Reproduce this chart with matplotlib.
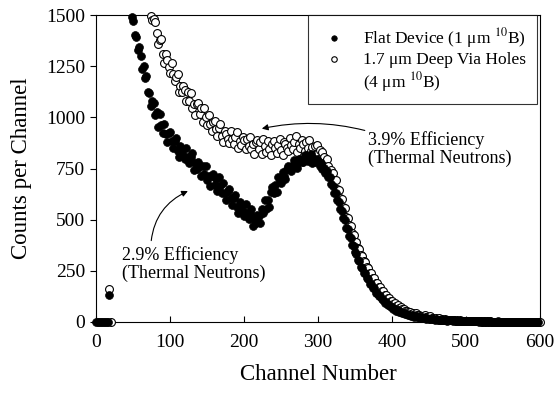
import numpy as np
import matplotlib
matplotlib.use("Agg")
import matplotlib.pyplot as plt
from matplotlib.lines import Line2D

# channel numbers (every 2nd channel)
channels = np.arange(0, 601, 2)

flat_counts = [
    0, 0, 0, 0, 0, 0, 0, 0, 0, 130,
    3000, 2850, 2700, 2550, 2400, 2280, 2160, 2050, 1950, 1860,
    1770, 1690, 1610, 1530, 1490, 1470, 1405, 1395, 1330, 1345,
    1300, 1236, 1250, 1194, 1200, 1122, 1119, 1058, 1079, 1069,
    1010, 1027, 955, 1015, 965, 925, 970, 920, 882, 925,
    928, 886, 850, 883, 899, 837, 806, 861, 842, 815,
    795, 851, 806, 779, 807, 827, 743, 776, 749, 782,
    762, 713, 761, 721, 760, 693, 714, 663, 715, 721,
    670, 701, 638, 707, 664, 630, 678, 631, 596, 642,
    648, 607, 572, 606, 623, 562, 531, 586, 567, 540,
    520, 576, 531, 504, 532, 552, 470, 505, 482, 523,
    517, 486, 553, 534, 596, 553, 595, 563, 634, 658,
    628, 670, 636, 708, 690, 680, 734, 712, 698, 749,
    762, 748, 738, 769, 790, 764, 754, 795, 792, 784,
    783, 815, 797, 788, 806, 819, 778, 796, 781, 797,
    788, 763, 777, 750, 753, 728, 738, 710, 708, 672,
    666, 632, 630, 595, 588, 550, 544, 508, 500, 461,
    453, 419, 410, 377, 372, 340, 334, 304, 299, 271,
    265, 241, 238, 214, 209, 184, 184, 165, 164, 144,
    142, 127, 126, 110, 109, 95, 96, 83, 83, 72,
    73, 63, 64, 56, 57, 47, 49, 43, 45, 38,
    39, 33, 36, 29, 32, 26, 28, 22, 25, 21,
    22, 18, 20, 15, 17, 14, 16, 13, 14, 11,
    13, 10, 12, 9, 11, 8, 10, 7, 9, 8,
    8, 6, 8, 6, 7, 5, 6, 5, 6, 4,
    5, 4, 5, 3, 4, 3, 5, 3, 3, 2,
    3, 2, 4, 2, 3, 2, 3, 1, 2, 2,
    2, 1, 3, 1, 2, 1, 2, 1, 1, 2,
    1, 1, 2, 0, 1, 1, 2, 0, 1, 1,
    1, 0, 1, 1, 0, 1, 0, 1, 0, 0,
    np.nan,
]

via_counts = [
    np.nan, np.nan, np.nan, np.nan, np.nan, np.nan, np.nan, np.nan, np.nan, 160,
    0, 4400, 4200, 4000, 3800, 3600, 3400, 3200, 3000, 2850,
    2700, 2550, 2400, 2280, 2160, 2050, 1950, 1860, 1780, 1710,
    1660, 1620, 1590, 1565, 1545, 1525, 1510, 1495, 1478, 1482,
    1468, 1411, 1360, 1378, 1385, 1312, 1268, 1310, 1280, 1244,
    1215, 1264, 1212, 1178, 1199, 1212, 1125, 1155, 1125, 1155,
    1132, 1080, 1125, 1082, 1118, 1048, 1067, 1014, 1064, 1068,
    1015, 1044, 979, 1046, 1001, 965, 1013, 966, 931, 977,
    983, 944, 911, 947, 966, 907, 878, 935, 918, 893,
    875, 935, 894, 871, 903, 927, 848, 886, 864, 902,
    887, 843, 896, 861, 905, 843, 869, 822, 879, 889,
    843, 879, 822, 896, 859, 830, 885, 845, 817, 870,
    883, 851, 824, 867, 892, 840, 817, 880, 868, 849,
    837, 901, 863, 844, 879, 907, 830, 869, 848, 888,
    872, 837, 880, 852, 887, 837, 856, 816, 858, 864,
    827, 839, 802, 832, 806, 783, 797, 763, 733, 744,
    730, 692, 692, 652, 646, 605, 600, 563, 556, 515,
    508, 473, 469, 434, 427, 392, 389, 361, 357, 326,
    321, 296, 294, 269, 265, 240, 238, 217, 215, 192,
    190, 171, 170, 152, 149, 131, 133, 117, 117, 102,
    102, 90, 91, 79, 81, 70, 71, 61, 63, 54,
    55, 47, 50, 41, 44, 36, 42, 32, 35, 28,
    31, 24, 33, 22, 24, 18, 28, 17, 19, 15,
    17, 13, 19, 12, 13, 11, 15, 10, 11, 10,
    10, 8, 9, 7, 9, 6, 8, 6, 7, 5,
    6, 4, 6, 4, 5, 3, 5, 3, 4, 3,
    3, 2, 4, 2, 3, 2, 3, 2, 2, 1,
    2, 1, 2, 1, 2, 1, 1, 2, 1, 1,
    1, 1, 2, 0, 1, 1, 1, 0, 1, 1,
    1, 0, 1, 0, 0, 1, 0, 1, 0, 0,
    0,
]

x_ticks = [0, 100, 200, 300, 400, 500, 600]
y_ticks = [0, 250, 500, 750, 1000, 1250, 1500]
y_max = 1500

plt.rcParams['font.family'] = ['Liberation Serif', 'DejaVu Serif']
plt.rcParams['mathtext.fontset'] = 'stix'

fig = plt.figure(figsize=(5.56, 3.97), dpi=100)
ax = fig.add_axes([0.173, 0.189, 0.798, 0.773])

# points above the top of the axis are left out, the rest may overhang the frame
flat_shown = np.ma.masked_greater(np.array(flat_counts, dtype=float), y_max)
via_shown = np.ma.masked_greater(np.array(via_counts, dtype=float), y_max)

via_pts = ax.scatter(channels, via_shown, s=32, facecolors='white', edgecolors='black',
                     linewidths=0.8, zorder=3, clip_on=False)
flat_pts = ax.scatter(channels, flat_shown, s=32, color='black', edgecolors='black',
                      linewidths=0.5, zorder=4, clip_on=False)

ax.set_xlim(0, 600)
ax.set_ylim(0, y_max)
ax.set_xticks(x_ticks)
ax.set_yticks(y_ticks)
ax.tick_params(axis='x', direction='in', labelsize=14, pad=9, length=4)
ax.tick_params(axis='y', direction='out', labelsize=14, pad=4, length=4)
ax.set_xlabel("Channel Number", fontsize=16.5, labelpad=9)
ax.set_ylabel("Counts per Channel", fontsize=16.5, labelpad=10)

# the second label wraps onto a third row with no marker of its own
blank = Line2D([], [], linestyle='none')
leg = ax.legend([flat_pts, via_pts, blank],
                ['Flat Device (1 μm $^{10}$B)', '1.7 μm Deep Via Holes', '(4 μm $^{10}$B)'],
                loc='upper right', fontsize=12.5, frameon=True, fancybox=False,
                edgecolor='black', handletextpad=0.75, borderpad=0.6,
                labelspacing=0.12, markerscale=0.7, handlelength=1.85,
                bbox_to_anchor=(0.993, 1.0), borderaxespad=0.0)
leg.get_frame().set_linewidth(0.8)

ax.annotate("3.9% Efficiency\n(Thermal Neutrons)", xy=(224, 945), xytext=(367, 845),
            fontsize=13, ha='left', va='center', linespacing=1.05,
            arrowprops=dict(arrowstyle='-|>', color='black', lw=0.8,
                            mutation_scale=9, shrinkA=0, shrinkB=0,
                            connectionstyle='arc3,rad=0.12',
                            relpos=(0.0, 1.0)))
ax.annotate("2.9% Efficiency\n(Thermal Neutrons)", xy=(124, 640), xytext=(35, 283),
            fontsize=13, ha='left', va='center', linespacing=1.05,
            arrowprops=dict(arrowstyle='-|>', color='black', lw=0.8,
                            mutation_scale=9, shrinkA=2, shrinkB=0,
                            connectionstyle='arc3,rad=-0.3',
                            relpos=(0.2, 1.0)))

fig.savefig("out.png", dpi=100)
